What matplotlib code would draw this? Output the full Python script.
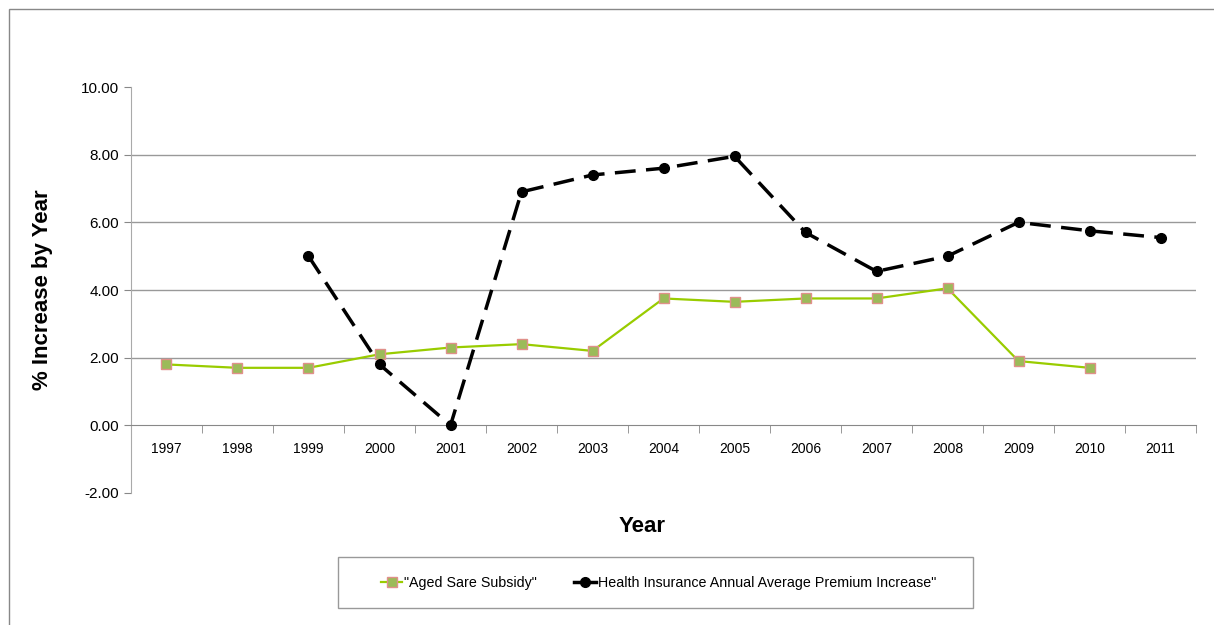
import matplotlib.pyplot as plt
from matplotlib.patches import Rectangle
import numpy as np

plt.rcParams['font.family'] = ['Liberation Sans', 'DejaVu Sans']

# Data
# ---------------------------------------------------------------------------
years = ['1997', '1998', '1999', '2000', '2001', '2002', '2003', '2004',
         '2005', '2006', '2007', '2008', '2009', '2010', '2011']
aged_care = [1.8, 1.7, 1.7, 2.1, 2.3, 2.4, 2.2, 3.75, 3.65, 3.75, 3.75, 4.05, 1.9, 1.7, None]
premium = [None, None, 5.0, 1.8, 0.0, 6.9, 7.4, 7.6, 7.95, 5.7, 4.55, 5.0, 6.0, 5.75, 5.55]
y_ticks = [-2, 0, 2, 4, 6, 8, 10]

x = np.arange(len(years))
aged = np.array([np.nan if v is None else v for v in aged_care])
prem = np.array([np.nan if v is None else v for v in premium])

W, H = 1214, 625

# Plotting
# ---------------------------------------------------------------------------
fig = plt.figure(figsize=(W / 100, H / 100), dpi=100)
ax = fig.add_axes([0.1079, 0.2112, 0.8773, 0.6496])

# outer frame of the chart area
fig.patches.append(Rectangle((9 / W, -0.1), 1.2, 1 - 9 / H + 0.1,
                             transform=fig.transFigure, fill=False,
                             edgecolor='#888888', linewidth=1.0))

l1, = ax.plot(x, aged, color='#99CC00', lw=1.6, marker='s', ms=7.5,
              mfc='#9BBB59', mec='#E0908A', mew=1.0,
              label='"Aged Sare Subsidy"', zorder=3)
l2, = ax.plot(x, prem, color='black', lw=2.5, marker='o', ms=7,
              mfc='black', mec='black', dashes=(6, 3),
              label='Health Insurance Annual Average Premium Increase"', zorder=4)

ax.set_xlim(-0.5, len(years) - 0.5)
ax.set_ylim(-2, 10)
ax.set_yticks(y_ticks)
ax.set_yticklabels(['%.2f' % v for v in y_ticks], fontsize=11)

# gridlines only inside the positive range
for v in y_ticks:
    if 0 < v < 10:
        ax.axhline(v, color='#999999', lw=1.0, zorder=1)

ax.set_xticks(x)
ax.set_xticklabels(years, fontsize=11.5)
ax.set_xticks(np.arange(len(years) + 1) - 0.5, minor=True)
ax.tick_params(axis='x', which='major', length=0, pad=12)
ax.tick_params(axis='x', which='minor', length=6, color='#888888', direction='out')
ax.tick_params(axis='y', length=5, color='#888888', direction='out')

for s in ['top', 'right']:
    ax.spines[s].set_visible(False)
ax.spines['bottom'].set_position(('data', 0))
ax.spines['bottom'].set_color('#888888')
ax.spines['left'].set_color('#aaaaaa')

ax.set_ylabel('% Increase by Year', fontsize=16, fontweight='bold', labelpad=20)
fig.text(0.529, 0.157, 'Year', fontsize=16, fontweight='bold', ha='center', va='center')

# Legend (box drawn separately, wider than the content)
fig.patches.append(Rectangle((338 / W, 1 - 608 / H), (973 - 338) / W, 51 / H,
                             transform=fig.transFigure, fill=False,
                             edgecolor='#999999', linewidth=1.0))
leg = fig.legend(handles=[l1, l2], loc='center', bbox_to_anchor=(0.5424, 0.0672),
                 ncol=2, fontsize=10.3, frameon=False,
                 handlelength=1.5, handletextpad=0.15, columnspacing=2.6)
leg.get_lines()[1].set_linestyle('-')

plt.savefig('out.png', dpi=100)
